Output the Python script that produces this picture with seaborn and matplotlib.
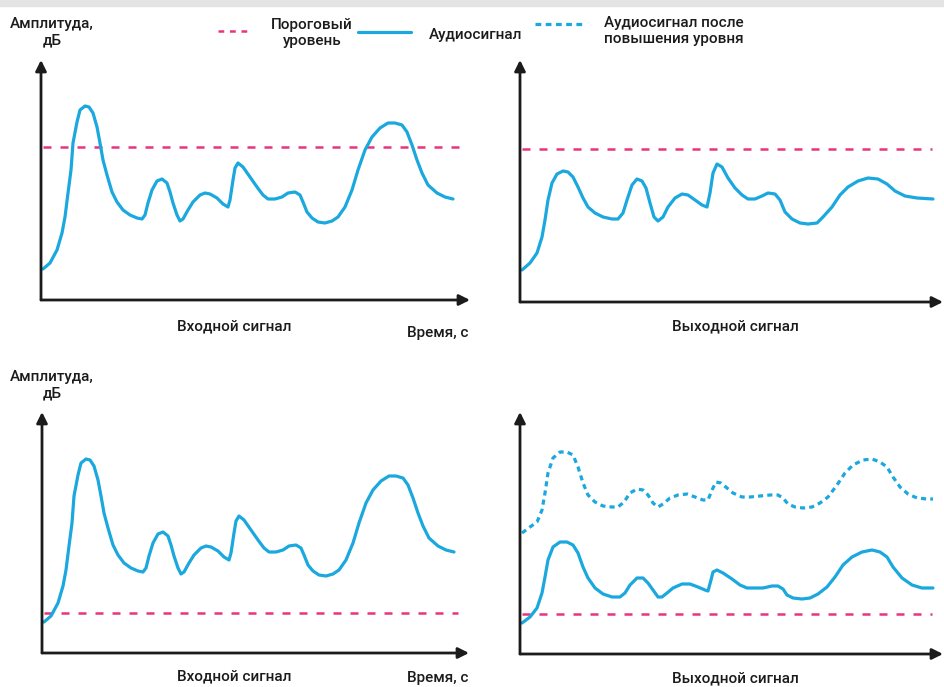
"""
Audio limiter / level boost illustration: input vs output signal
"""

import matplotlib
matplotlib.use("Agg")
import matplotlib.pyplot as plt
from matplotlib.lines import Line2D
from matplotlib.patches import Rectangle
import pandas as pd
import seaborn as sns

sns.set_theme(style="white")
plt.rcParams["font.family"] = ["Roboto", "DejaVu Sans"]

BLUE = "#1aa8de"
PINK = "#e8347f"
AXIS = "#1b1b1b"

W, H = 944, 687

# ---------------------------------------------------------------
# Data (time / amplitude, relative units)
# ---------------------------------------------------------------
# input signal (same in both "Входной сигнал" panels)
t_in = [2, 9, 16, 21, 24, 27, 30, 32, 36, 39, 44, 48, 52, 56, 59, 62, 66, 71,
        76, 82, 89, 96, 101, 104, 107, 111, 116, 121, 126, 129, 132, 136, 139,
        142, 147, 152, 159, 164, 169, 176, 182, 187, 189, 192, 194, 197, 202,
        209, 216, 222, 227, 234, 241, 247, 254, 259, 262, 266, 271, 277, 284,
        291, 297, 304, 311, 317, 324, 331, 339, 347, 354, 361, 366, 371, 376,
        381, 387, 396, 404, 412]
a_in = [31, 37, 50, 67, 83, 107, 130, 157, 178, 190, 194, 193, 187, 173, 157,
        140, 125, 108, 98, 90, 85, 82, 81, 85, 97, 110, 119, 121, 117, 108, 97,
        85, 79, 81, 90, 98, 105, 107, 106, 102, 96, 93, 100, 120, 132, 137, 133,
        123, 113, 105, 101, 101, 103, 107, 108, 105, 98, 88, 82, 78, 77, 79, 83,
        93, 110, 130, 150, 163, 172, 177, 177, 175, 168, 155, 140, 127, 115, 107,
        103, 101]

# output signal, top row (peaks limited below threshold)
t_lim = [2, 10, 17, 22, 25, 28, 32, 37, 43, 48, 53, 58, 63, 68, 75, 83, 92, 98,
         103, 107, 112, 117, 122, 126, 130, 134, 138, 143, 148, 155, 162, 168,
         175, 182, 187, 190, 193, 197, 202, 208, 215, 222, 228, 235, 242, 248,
         255, 260, 265, 272, 280, 288, 297, 303, 312, 320, 328, 338, 348, 358,
         367, 375, 385, 397, 413]
a_lim = [32, 39, 49, 65, 82, 102, 119, 128, 131, 130, 125, 115, 104, 95, 89, 85,
         83, 83, 89, 102, 117, 123, 121, 114, 99, 85, 81, 85, 95, 104, 108, 107,
         102, 97, 95, 109, 129, 138, 135, 124, 114, 107, 103, 103, 106, 109, 108,
         102, 90, 83, 79, 78, 79, 85, 95, 107, 115, 121, 124, 123, 118, 111, 106,
         104, 103]

# output signal, bottom row (before level boost)
t_comp = [2, 10, 17, 22, 25, 28, 33, 40, 47, 53, 58, 63, 68, 75, 83, 92, 100,
          105, 110, 117, 123, 128, 133, 138, 142, 147, 153, 162, 170, 178, 185,
          188, 191, 193, 197, 203, 212, 220, 227, 235, 243, 252, 258, 263, 267,
          273, 282, 290, 298, 307, 315, 323, 332, 342, 352, 360, 367, 373, 382,
          392, 402, 413]
a_comp = [31, 37, 46, 61, 77, 94, 107, 112, 112, 109, 101, 87, 76, 66, 60, 57,
          57, 61, 69, 76, 76, 71, 64, 57, 57, 61, 66, 70, 70, 67, 64, 63, 74, 82,
          84, 81, 75, 69, 66, 66, 66, 68, 68, 65, 59, 56, 55, 56, 60, 67, 77, 89,
          97, 102, 104, 102, 97, 87, 76, 69, 66, 66]

# output signal after level boost
t_boost = [2, 10, 17, 22, 25, 28, 33, 40, 47, 53, 58, 63, 68, 75, 83, 92, 98,
           104, 110, 117, 123, 128, 133, 138, 143, 150, 158, 167, 175, 183, 188,
           192, 196, 201, 207, 213, 222, 230, 240, 250, 258, 263, 268, 275, 283,
           292, 300, 308, 317, 325, 333, 343, 352, 360, 367, 373, 380, 388, 397,
           407, 413]
a_boost = [121, 127, 132, 144, 161, 181, 196, 202, 202, 199, 187, 171, 159, 152,
           148, 147, 147, 152, 161, 165, 164, 159, 151, 147, 150, 156, 159, 160,
           157, 154, 154, 164, 172, 171, 166, 161, 157, 157, 158, 159, 159, 156,
           150, 147, 146, 147, 151, 157, 169, 181, 189, 194, 195, 192, 187, 177,
           167, 160, 156, 155, 155]

threshold_high = 153
threshold_low = 40

# panels: (origin x px, origin y px, arrow-tip x px, arrow-tip y px)
panel_box = {
    "top_in": (41, 300, 470, 60),
    "top_out": (520, 302, 943, 60),
    "bot_in": (42, 653, 469, 412),
    "bot_out": (520, 654, 943, 412),
}

# ---------------------------------------------------------------
# Figure
# ---------------------------------------------------------------
fig = plt.figure(figsize=(W / 100, H / 100), dpi=100)
fig.patches.append(Rectangle((0, 1 - 6 / H), 1, 6 / H, transform=fig.transFigure,
                             color="#e4e4e4", zorder=0))


def make_axes(box):
    x0, y0, x1, y1 = box
    ax = fig.add_axes([x0 / W, 1 - y0 / H, (x1 - x0) / W, (y0 - y1) / H])
    ax.set_xlim(0, x1 - x0)
    ax.set_ylim(0, y0 - y1)
    ax.set_facecolor("none")
    for s in ax.spines.values():
        s.set_visible(False)
    ax.set_xticks([])
    ax.set_yticks([])
    arrow = dict(arrowstyle="-|>", lw=2.0, color=AXIS, mutation_scale=16,
                 shrinkA=0, shrinkB=0)
    ax.annotate("", xy=(1, 0), xytext=(0, 0), xycoords="axes fraction",
                arrowprops=arrow, annotation_clip=False)
    ax.annotate("", xy=(0, 1), xytext=(0, 0), xycoords="axes fraction",
                arrowprops=arrow, annotation_clip=False)
    return ax


def signal(ax, t, a, **kw):
    df = pd.DataFrame({"t": t, "a": a})
    sns.lineplot(data=df, x="t", y="a", ax=ax, color=BLUE, lw=2.3, sort=False,
                 estimator=None, clip_on=False, solid_joinstyle="round",
                 solid_capstyle="round", **kw)
    ax.set_xlabel("")
    ax.set_ylabel("")


def threshold(ax, y):
    ax.axhline(y, xmin=0.005, xmax=0.975, color=PINK, lw=1.8,
               linestyle=(0, (3.2, 3.6)))


ax1 = make_axes(panel_box["top_in"])
threshold(ax1, threshold_high)
signal(ax1, t_in, a_in)

ax2 = make_axes(panel_box["top_out"])
threshold(ax2, threshold_high)
signal(ax2, t_lim, a_lim)

ax3 = make_axes(panel_box["bot_in"])
threshold(ax3, threshold_low)
signal(ax3, t_in, a_in)

ax4 = make_axes(panel_box["bot_out"])
threshold(ax4, threshold_low)
signal(ax4, t_comp, a_comp)
signal(ax4, t_boost, a_boost, linestyle=(0, (1.6, 1.3)))

# ---------------------------------------------------------------
# Texts
# ---------------------------------------------------------------
txt = dict(fontsize=11, color="#1b1b1b", fontweight="medium",
           ha="center", va="center", linespacing=1.25)


def ftext(x, y, s, **kw):
    opts = dict(txt)
    opts.update(kw)
    fig.text(x / W, 1 - y / H, s, **opts)


ftext(52, 32, "Амплитуда,\nдБ")
ftext(52, 385, "Амплитуда,\nдБ")
ftext(234, 326, "Входной сигнал")
ftext(438, 333, "Время, с")
ftext(735, 326, "Выходной сигнал")
ftext(234, 676, "Входной сигнал")
ftext(438, 678, "Время, с")
ftext(735, 678, "Выходной сигнал")

# legend
ftext(312, 33, "Пороговый\nуровень")
ftext(476, 35, "Аудиосигнал")
ftext(674, 31, "Аудиосигнал после\nповышения уровня")

fig.add_artist(Line2D([218 / W, 248 / W], [1 - 31 / H] * 2, color=PINK, lw=1.8,
                      linestyle=(0, (2.3, 2.3))))
fig.add_artist(Line2D([358 / W, 411 / W], [1 - 32 / H] * 2, color=BLUE, lw=2.3))
fig.add_artist(Line2D([535 / W, 583 / W], [1 - 24 / H] * 2, color=BLUE, lw=2.3,
                      linestyle=(0, (1.8, 1.4))))

fig.savefig("out.png", dpi=100)
